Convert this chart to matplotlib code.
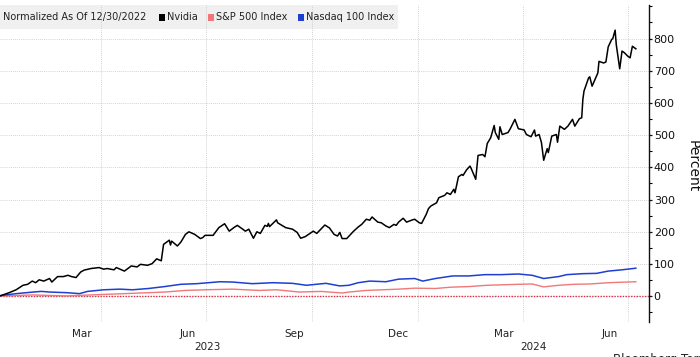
import numpy as np
import pandas as pd
import matplotlib
matplotlib.use('Agg')
import matplotlib.pyplot as plt
import matplotlib.dates as mdates
from matplotlib.patches import Rectangle
from matplotlib.transforms import blended_transform_factory

plt.rcParams['font.family'] = ['DejaVu Sans']

# cumulative % change since 12/30/2022
nvda_dates = [
    '2022-12-30', '2023-01-03', '2023-01-11', '2023-01-17', '2023-01-20', '2023-01-23',
    '2023-01-27', '2023-01-31', '2023-02-03', '2023-02-06', '2023-02-10', '2023-02-15',
    '2023-02-17', '2023-02-22', '2023-02-27', '2023-03-03', '2023-03-06', '2023-03-10',
    '2023-03-14', '2023-03-17', '2023-03-23', '2023-03-30', '2023-04-03', '2023-04-06',
    '2023-04-12', '2023-04-14', '2023-04-21', '2023-04-27', '2023-05-02', '2023-05-05',
    '2023-05-11', '2023-05-15', '2023-05-19', '2023-05-23', '2023-05-25', '2023-05-30',
    '2023-05-31', '2023-06-01', '2023-06-06', '2023-06-09', '2023-06-13', '2023-06-16',
    '2023-06-21', '2023-06-26', '2023-06-28', '2023-06-30', '2023-07-07', '2023-07-12',
    '2023-07-17', '2023-07-21', '2023-07-25', '2023-07-28', '2023-08-01', '2023-08-04',
    '2023-08-07', '2023-08-11', '2023-08-14', '2023-08-17', '2023-08-21', '2023-08-23',
    '2023-08-24', '2023-08-25', '2023-08-31', '2023-09-01', '2023-09-08', '2023-09-14',
    '2023-09-18', '2023-09-21', '2023-09-25', '2023-10-02', '2023-10-05', '2023-10-09',
    '2023-10-12', '2023-10-16', '2023-10-20', '2023-10-23', '2023-10-25', '2023-10-27',
    '2023-10-31', '2023-11-06', '2023-11-10', '2023-11-13', '2023-11-17', '2023-11-20',
    '2023-11-22', '2023-11-27', '2023-11-30', '2023-12-04', '2023-12-07', '2023-12-11',
    '2023-12-13', '2023-12-15', '2023-12-19', '2023-12-22', '2023-12-27', '2023-12-29',
    '2024-01-02', '2024-01-04', '2024-01-08', '2024-01-10', '2024-01-12', '2024-01-17',
    '2024-01-19', '2024-01-24', '2024-01-26', '2024-01-29', '2024-02-01', '2024-02-02',
    '2024-02-05', '2024-02-08', '2024-02-09', '2024-02-12', '2024-02-15', '2024-02-16',
    '2024-02-20', '2024-02-22', '2024-02-26', '2024-02-28', '2024-03-01', '2024-03-04',
    '2024-03-07', '2024-03-08', '2024-03-11', '2024-03-12', '2024-03-14', '2024-03-19',
    '2024-03-21', '2024-03-25', '2024-03-28', '2024-04-02', '2024-04-04', '2024-04-08',
    '2024-04-09', '2024-04-11', '2024-04-12', '2024-04-15', '2024-04-17', '2024-04-19',
    '2024-04-22', '2024-04-23', '2024-04-26', '2024-04-30', '2024-05-01', '2024-05-03',
    '2024-05-07', '2024-05-10', '2024-05-14', '2024-05-16', '2024-05-20', '2024-05-22',
    '2024-05-23', '2024-05-24', '2024-05-28', '2024-05-29', '2024-05-31', '2024-06-05',
    '2024-06-06', '2024-06-10', '2024-06-12', '2024-06-14', '2024-06-17', '2024-06-18',
    '2024-06-20', '2024-06-21', '2024-06-24', '2024-06-26', '2024-06-28', '2024-07-01',
    '2024-07-03', '2024-07-05', '2024-07-08',
]
nvda_pct = [
    0, 1, 11, 20, 27, 34,
    37, 47, 42, 51, 47, 55,
    44, 61, 61, 65, 61, 58,
    75, 81, 86, 89, 84, 86,
    82, 89, 78, 94, 91, 99,
    96, 101, 116, 110, 161, 174,
    159, 171, 156, 168, 192, 200,
    192, 179, 182, 189, 189, 213,
    225, 202, 213, 220, 210, 202,
    208, 180, 200, 195, 220, 217,
    226, 216, 237, 228, 213, 208,
    198, 180, 185, 202, 195, 210,
    221, 212, 192, 187, 198, 179,
    179, 202, 215, 223, 239, 236,
    246, 230, 228, 218, 213, 223,
    220, 230, 242, 230, 237, 239,
    228, 226, 254, 272, 280, 290,
    306, 313, 321, 316, 332, 321,
    371, 378, 375, 392, 404, 397,
    363, 437, 440, 433, 474, 492,
    530, 508, 487, 526, 502, 508,
    520, 549, 520, 516, 502, 495,
    502, 516, 497, 502, 478, 422,
    458, 446, 497, 502, 478, 528,
    518, 528, 549, 528, 551, 554,
    611, 637, 678, 681, 652, 693,
    729, 724, 727, 774, 797, 800,
    826, 781, 706, 761, 756, 745,
    740, 776, 768,
]

spx_dates = [
    '2022-12-30', '2023-01-31', '2023-03-02', '2023-03-15', '2023-03-30', '2023-04-28',
    '2023-05-26', '2023-06-13', '2023-06-30', '2023-07-24', '2023-08-16', '2023-08-31',
    '2023-09-20', '2023-10-09', '2023-10-27', '2023-11-02', '2023-11-17', '2023-12-01',
    '2023-12-15', '2023-12-29', '2024-01-16', '2024-01-29', '2024-02-14', '2024-03-01',
    '2024-03-28', '2024-04-09', '2024-04-19', '2024-05-02', '2024-05-15', '2024-05-29',
    '2024-06-14', '2024-07-08',
]
spx_pct = [
    0, 4, 1, 3, 5, 9,
    13, 18, 20, 22, 18, 20,
    13, 15, 10, 13, 18, 20,
    22, 25, 24, 28, 30, 34,
    37, 38, 29, 34, 37, 38,
    42, 45,
]

ndx_dates = [
    '2022-12-30', '2023-01-17', '2023-02-01', '2023-02-08', '2023-02-15', '2023-03-02',
    '2023-03-13', '2023-03-20', '2023-04-03', '2023-04-17', '2023-04-28', '2023-05-12',
    '2023-05-26', '2023-06-09', '2023-06-23', '2023-07-13', '2023-07-24', '2023-08-10',
    '2023-08-28', '2023-09-14', '2023-09-26', '2023-10-13', '2023-10-25', '2023-11-02',
    '2023-11-10', '2023-11-20', '2023-12-04', '2023-12-15', '2023-12-29', '2024-01-05',
    '2024-01-16', '2024-01-31', '2024-02-14', '2024-02-28', '2024-03-13', '2024-03-28',
    '2024-04-09', '2024-04-19', '2024-05-02', '2024-05-09', '2024-05-23', '2024-06-04',
    '2024-06-14', '2024-06-26', '2024-07-08',
]
ndx_pct = [
    0, 8, 13, 15, 13, 11,
    8, 15, 20, 22, 20, 24,
    30, 37, 39, 45, 44, 39,
    42, 40, 34, 40, 32, 34,
    42, 47, 45, 53, 55, 47,
    55, 63, 63, 67, 67, 69,
    65, 55, 61, 67, 70, 71,
    78, 82, 87,
]

month_labels = ['Mar', 'Jun', 'Sep', 'Dec', 'Mar', 'Jun']
month_label_dates = ['2023-03-15', '2023-06-15', '2023-09-15', '2023-12-15', '2024-03-15', '2024-06-15']
year_labels = ['2023', '2024']
year_label_dates = ['2023-07-02', '2024-04-10']

series = [
    ('Nvidia', nvda_dates, nvda_pct, '#000000', 1.1, 4),
    ('S&P 500 Index', spx_dates, spx_pct, '#f07878', 1.0, 3),
    ('Nasdaq 100 Index', ndx_dates, ndx_pct, '#1f3fd0', 1.1, 3),
]

fig = plt.figure(figsize=(7, 3.57), dpi=100)
ax = fig.add_axes([0, 35 / 357, 649 / 700, 317 / 357])

# legend strip behind the plot
ax.add_patch(Rectangle((0, 328 / 357 * 0 + (1 - 24 / 317)), 398 / 649, 24 / 317,
                       transform=ax.transAxes, facecolor='#f0f0f0',
                       edgecolor='none', zorder=0.5))

ax.axhline(0, color='#e03048', lw=1.0, ls=(0, (1, 1)), zorder=2)

for name, d, v, c, lw, z in series:
    ax.plot(pd.to_datetime(d), v, color=c, lw=lw, zorder=z, solid_joinstyle='round')

ax.set_xlim(mdates.date2num(pd.Timestamp('2023-01-03')),
            mdates.date2num(pd.Timestamp('2024-07-19 10:00')))
ax.set_ylim(-80, 904)

# x axis: gridlines at quarter starts, month names mid-month
ax.set_xticks(pd.date_range('2023-04-01', '2024-07-01', freq='QS'), labels=[])
ax.set_xticks(pd.to_datetime(month_label_dates), labels=month_labels, minor=True)
ax.tick_params(axis='x', which='both', length=0, pad=5, labelsize=7.5, colors='#222222')

trans = blended_transform_factory(ax.transData, ax.transAxes)
for lab, d in zip(year_labels, year_label_dates):
    ax.text(pd.Timestamp(d), -0.08, lab, transform=trans, ha='center', va='center',
            fontsize=7.5, color='#222222')

# y axis on the right
ax.yaxis.tick_right()
ax.set_yticks(np.arange(0, 801, 100))
ax.set_yticks(np.arange(-50, 901, 50), minor=True)
ax.tick_params(axis='y', which='major', length=2.4, width=0.9, pad=1, labelsize=8,
               colors='#111111')
ax.tick_params(axis='y', which='minor', length=1.8, width=0.8)

ax.grid(axis='both', which='major', ls=(0, (1, 1.5)), color='#c4c4c4', lw=0.6, zorder=1)
ax.set_axisbelow(True)

for s in ['top', 'left', 'bottom']:
    ax.spines[s].set_visible(False)
ax.spines['right'].set_linewidth(1.0)
ax.spines['right'].set_color('#111111')

fig.text(0.99, 0.536, 'Percent', rotation=270, ha='center', va='center', fontsize=10,
         color='#111111')

# legend row
fig.text(3 / 700, 1 - 17 / 357, 'Normalized As Of 12/30/2022', ha='left', va='center',
         fontsize=7, color='#222222')
legend_x = [159, 208, 298]
for (name, d, v, c, lw, z), lx in zip(series, legend_x):
    fig.patches.append(Rectangle((lx / 700, 1 - 20.5 / 357), 6 / 700, 6.5 / 357,
                                 transform=fig.transFigure, facecolor=c,
                                 edgecolor='none', figure=fig))
    fig.text((lx + 8) / 700, 1 - 17 / 357, name, ha='left', va='center',
             fontsize=7, color='#222222')

fig.text(613 / 700, 4 / 357, 'Bloomberg Terminal', ha='left', va='top', fontsize=8.5,
         color='#222222')

fig.savefig('out.png', dpi=100)
